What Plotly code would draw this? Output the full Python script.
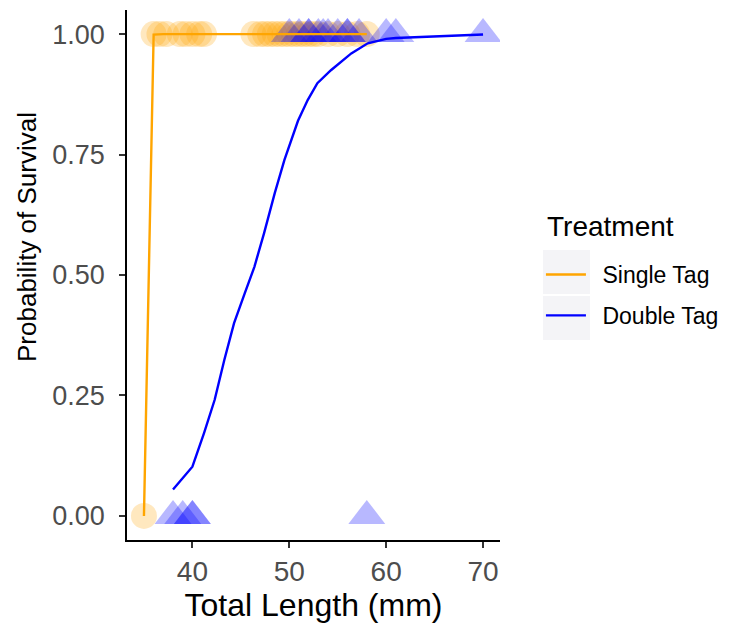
import plotly.graph_objects as go

# ---- data ----
single_x_surv = [36, 36.6, 37.3, 38.7, 39.3, 40, 40.7, 41.2, 46.3, 47, 47.5, 48, 48.5, 49, 49.5, 50, 50.5, 51, 51.5, 52, 52.5, 53, 54, 55, 56, 57, 58]
single_x_dead = [35]
double_x_surv = [50, 51, 52, 52, 53, 53.5, 54, 55, 56, 56, 57.2, 60, 61, 70]
double_x_dead = [38, 39, 40, 40, 58]

single_fit_x = [35, 36, 37, 38.7, 40, 41, 46.3, 50, 55, 58]
single_fit_p = [0.0, 0.999, 1.0, 1.0, 1.0, 1.0, 1.0, 1.0, 1.0, 1.0]

double_fit_x = [38, 40, 41.2, 42.3, 43.3, 44.3, 45.4, 46.4, 47.4, 48.5, 49.5, 50.2, 50.9, 51.9, 52.9, 54.3, 56.4, 58.1, 60, 61, 70]
double_fit_p = [0.055, 0.102, 0.172, 0.241, 0.324, 0.40, 0.462, 0.517, 0.587, 0.67, 0.739, 0.78, 0.82, 0.863, 0.898, 0.925, 0.96, 0.981, 0.99, 0.992, 0.999]

y_ticks = [0, 0.25, 0.5, 0.75, 1.0]
y_ticktext = ["0.00", "0.25", "0.50", "0.75", "1.00"]
x_ticks = [40, 50, 60, 70]
series_names = ["Single Tag", "Double Tag"]

ORANGE = "#FFA500"
BLUE = "#0000FF"
FONT = "Liberation Sans, Arial, sans-serif"

fig = go.Figure()

# points
fig.add_trace(go.Scatter(
    x=single_x_surv + single_x_dead,
    y=[1] * len(single_x_surv) + [0] * len(single_x_dead),
    mode="markers", showlegend=False,
    marker=dict(symbol="circle", size=26, color=ORANGE, opacity=0.25, line=dict(width=0)),
))
fig.add_trace(go.Scatter(
    x=double_x_surv + double_x_dead,
    y=[1] * len(double_x_surv) + [0] * len(double_x_dead),
    mode="markers", showlegend=False,
    marker=dict(symbol="triangle-up", size=32, color=BLUE, opacity=0.28, line=dict(width=0)),
))

# fitted lines
fig.add_trace(go.Scatter(
    x=single_fit_x, y=single_fit_p, mode="lines", name="\u2002" + series_names[0],
    line=dict(color=ORANGE, width=2.4), legendgroup="s",
))
fig.add_trace(go.Scatter(
    x=double_fit_x, y=double_fit_p, mode="lines", name="\u2002" + series_names[1],
    line=dict(color=BLUE, width=2.4), legendgroup="d",
))

fig.update_layout(
    width=731, height=628,
    margin=dict(l=127, r=231, t=10, b=88),
    plot_bgcolor="white", paper_bgcolor="white",
    font=dict(family=FONT, color="black"),
    legend=dict(
        font=dict(size=23, color="black"),
        xref="container", yref="container",
        x=0.74, y=1 - 253 / 628, xanchor="left", yanchor="top",
        tracegroupgap=8, bgcolor="rgba(0,0,0,0)",
        itemwidth=40,
    ),
    xaxis=dict(
        range=[33.25, 71.75], tickvals=x_ticks,
        showgrid=False, zeroline=False,
        showline=True, linecolor="black", linewidth=1.5,
        ticks="outside", ticklen=6, tickwidth=1.5, tickcolor="#333333",
        tickfont=dict(size=28, color="#4D4D4D"),
        title=dict(text="Total Length (mm)", font=dict(size=32, color="black"), standoff=2),
    ),
    yaxis=dict(
        range=[-0.05, 1.05], tickvals=y_ticks, ticktext=y_ticktext,
        showgrid=False, zeroline=False,
        showline=True, linecolor="black", linewidth=1.5,
        ticks="outside", ticklen=6, tickwidth=1.5, tickcolor="#333333",
        tickfont=dict(size=27, color="#4D4D4D"),
        ticklabelstandoff=9,
    ),
    annotations=[
        dict(text="Probability of Survival", textangle=-90,
             xref="paper", yref="paper", x=(27 - 127) / 373, y=(540 - 237) / 530,
             xanchor="center", yanchor="middle", showarrow=False,
             font=dict(size=26, color="black")),
        dict(text="Treatment",
             xref="paper", yref="paper", x=(545 - 127) / 373, y=(540 - 226) / 530,
             xanchor="left", yanchor="middle", showarrow=False,
             font=dict(size=28, color="black")),
    ],
    shapes=[
        dict(type="rect", xref="paper", yref="paper",
             x0=(543 - 127) / 373, x1=(590 - 127) / 373,
             y0=(540 - 294) / 530, y1=(540 - 250) / 530,
             fillcolor="#F4F4F7", line=dict(width=0), layer="below"),
        dict(type="rect", xref="paper", yref="paper",
             x0=(543 - 127) / 373, x1=(590 - 127) / 373,
             y0=(540 - 340) / 530, y1=(540 - 296) / 530,
             fillcolor="#F4F4F7", line=dict(width=0), layer="below"),
    ],
)

fig.write_html("out.html")
